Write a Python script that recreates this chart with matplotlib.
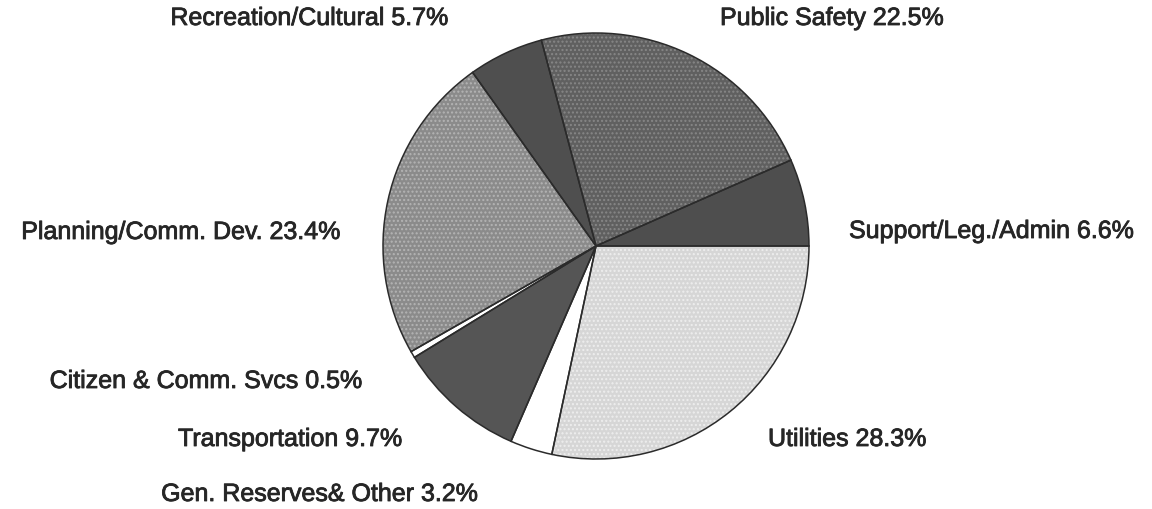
import matplotlib.pyplot as plt
import matplotlib.patheffects as pe

# budget shares, counter-clockwise from 3 o'clock
categories = ['Support/Leg./Admin', 'Public Safety', 'Recreation/Cultural',
              'Planning/Comm. Dev.', 'Citizen & Comm. Svcs', 'Transportation',
              'Gen. Reserves& Other', 'Utilities']
shares = [6.6, 22.5, 5.7, 23.4, 0.5, 9.7, 3.2, 28.3]

fills = ['#4e4e4e', '#606060', '#4f4f4f', '#8b8b8b', '#ffffff', '#555555', '#ffffff', '#d6d6d6']
dots = ['#5a5a5a', '#878787', '#5a5a5a', '#b4b4b4', '#ffffff', '#686868', '#ffffff', '#eeeeee']
hatches = ['', '....', '', '....', '', '', '', '....']

# label anchors (pixels, origin bottom-left) and alignment
label_pos = [(849, 278, 'left'), (720, 491, 'left'), (448, 491, 'right'),
             (340, 277, 'right'), (362, 128, 'right'), (402, 70, 'right'),
             (478, 15, 'right'), (768, 70, 'left')]

plt.rcParams['font.family'] = ['Liberation Sans', 'DejaVu Sans']
plt.rcParams['hatch.linewidth'] = 1.0

fig = plt.figure(figsize=(11.52, 5.10), dpi=100)
ax = fig.add_axes([0, 0, 1, 1])
ax.set_xlim(0, 1152)
ax.set_ylim(0, 510)
ax.set_aspect('equal')
ax.axis('off')

center = (596, 263)
radius = 213

wedges, _ = ax.pie(shares, center=center, radius=radius, startangle=0,
                   counterclock=True, colors=fills,
                   wedgeprops=dict(linewidth=0))
for w, d, h in zip(wedges, dots, hatches):
    w.set_edgecolor(d)
    w.set_hatch(h)

# outlines on top
ax.pie(shares, center=center, radius=radius, startangle=0, counterclock=True,
       wedgeprops=dict(facecolor='none', edgecolor='#2b2b2b', linewidth=1.1))

ax.set_xlim(0, 1152)
ax.set_ylim(0, 510)

for name, val, (x, y, ha) in zip(categories, shares, label_pos):
    ax.text(x, y, f'{name} {val}%', ha=ha, va='center', fontsize=18,
            color='#262626',
            path_effects=[pe.withStroke(linewidth=0.6, foreground='#262626')])

fig.savefig('out.png', dpi=100, facecolor='white')
